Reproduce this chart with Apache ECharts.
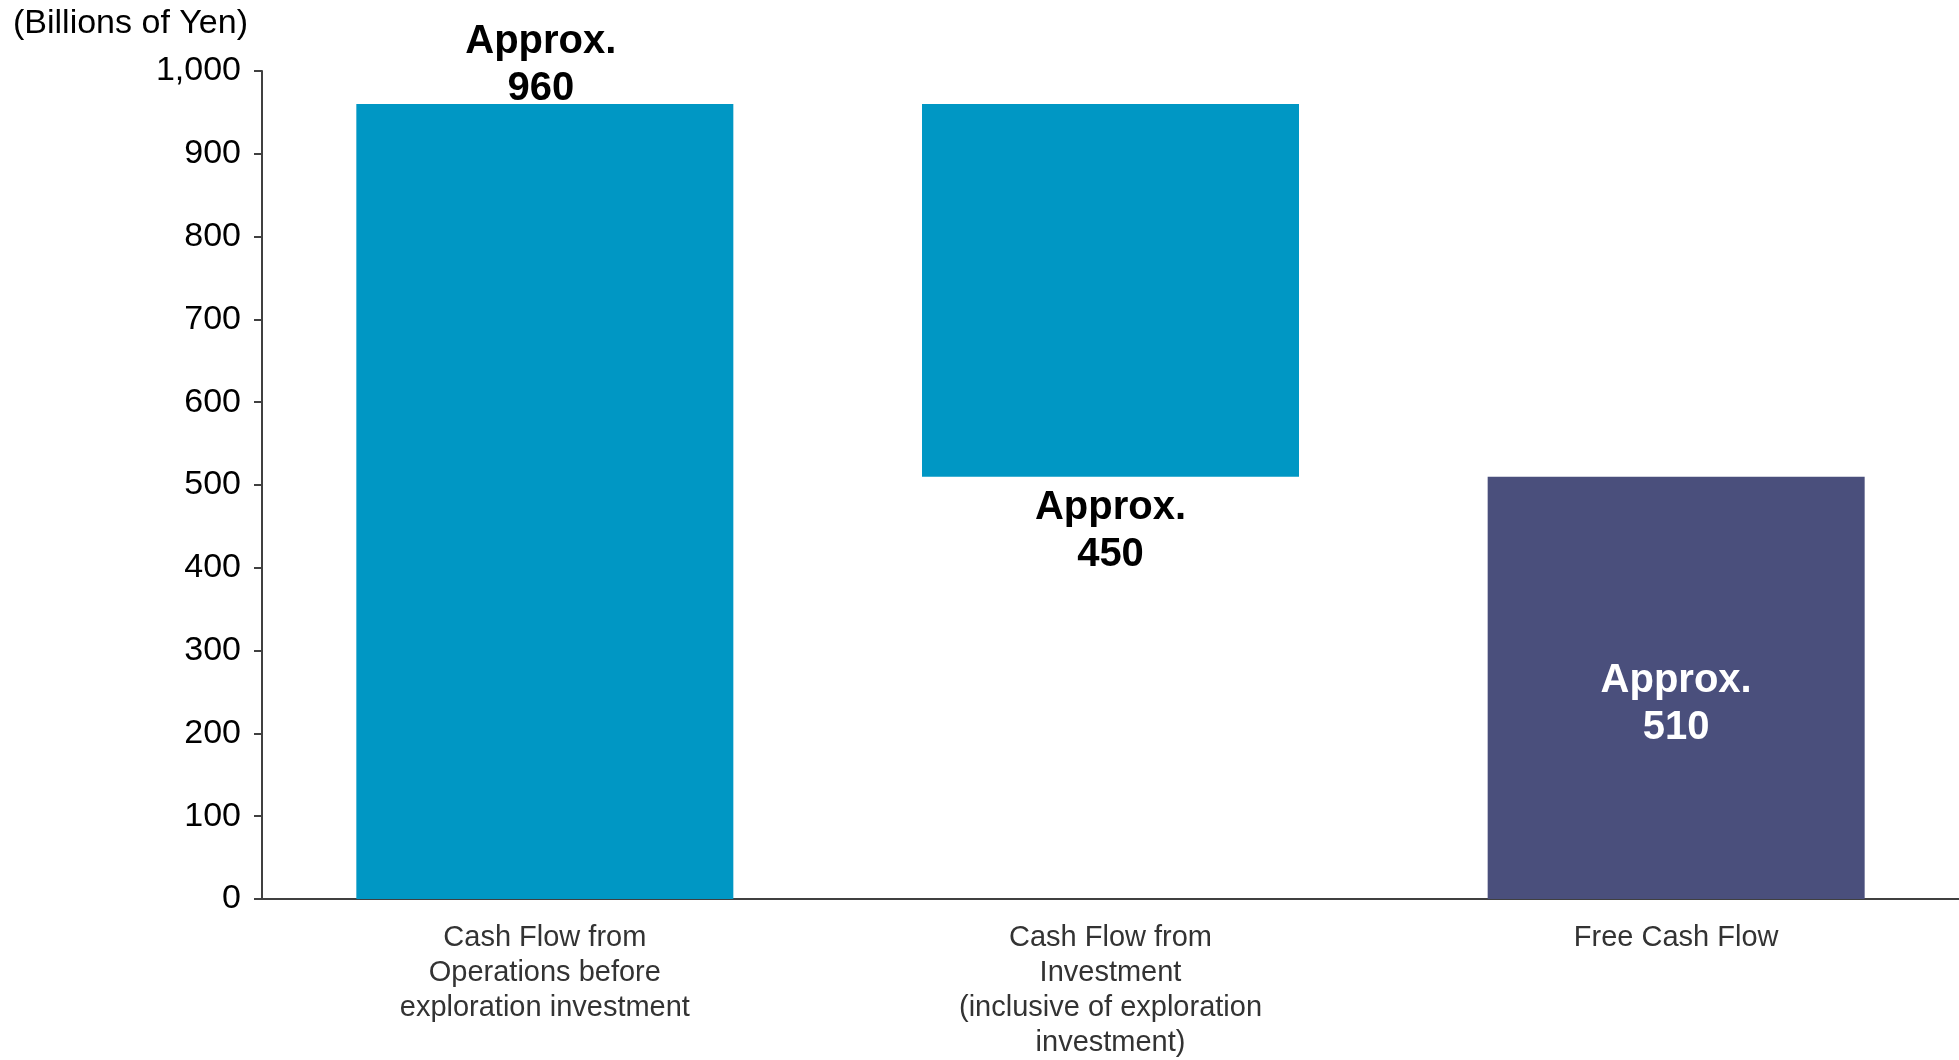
<!DOCTYPE html>
<html>
<head>
<meta charset="utf-8">
<title>Cash Flow</title>
<script src="https://cdn.jsdelivr.net/npm/echarts@6/dist/echarts.min.js"></script>
<style>
  html, body { margin: 0; padding: 0; background: #fff; }
  #chart { width: 1959px; height: 1060px; }
</style>
</head>
<body>
<div id="chart"></div>
<script>
const categories = [
  "Cash Flow from\nOperations before\nexploration investment",
  "Cash Flow from\nInvestment\n(inclusive of exploration\ninvestment)",
  "Free Cash Flow"
];
// invisible offset under each bar (waterfall)
const baseValues = [0, 510, 0];
const barValues = [960, 450, 510];
const barLabels = ["Approx.\n960", "Approx.\n450", "Approx.\n510"];
const yTicks = [0, 100, 200, 300, 400, 500, 600, 700, 800, 900, 1000];

const FONT = "'Liberation Sans', Arial, sans-serif";
const colors = {
  blue: "#0097c4",
  navy: "#4a4f7c",
  axis: "#404040"
};

// per-bar look
const barColors = [colors.blue, colors.blue, colors.navy];
const labelSpots = [
  { position: "top", distance: -8, offset: [-4, 0], color: "#000" },
  { position: "bottom", distance: 8, color: "#000" },
  { position: "inside", offset: [0, 17], color: "#fff" }
];

const chart = echarts.init(document.getElementById("chart"));

const option = {
  animation: false,
  title: {
    text: "(Billions of Yen)",
    left: 13,
    top: 7,
    padding: 0,
    textStyle: { fontFamily: FONT, fontSize: 34, fontWeight: "normal", color: "#000" }
  },
  grid: { left: 262, right: 0, top: 71, bottom: 158, containLabel: false },
  xAxis: {
    type: "category",
    data: categories,
    axisLine: { show: true, lineStyle: { color: colors.axis, width: 2 } },
    axisTick: { show: false },
    axisLabel: {
      interval: 0,
      margin: 21,
      fontFamily: FONT,
      fontSize: 29,
      lineHeight: 35,
      color: "#333"
    }
  },
  yAxis: {
    type: "value",
    min: yTicks[0],
    max: yTicks[yTicks.length - 1],
    interval: 100,
    axisLine: { show: true, lineStyle: { color: colors.axis, width: 2 } },
    axisTick: { show: true, length: 8, lineStyle: { color: colors.axis, width: 2 } },
    splitLine: { show: false },
    axisLabel: {
      margin: 21,
      fontFamily: FONT,
      fontSize: 34,
      color: "#000",
      formatter: (v) => v.toLocaleString("en-US")
    }
  },
  series: [
    {
      name: "base",
      type: "bar",
      stack: "cf",
      barWidth: 377,
      silent: true,
      itemStyle: { color: "transparent" },
      data: baseValues
    },
    {
      name: "value",
      type: "bar",
      stack: "cf",
      barWidth: 377,
      data: barValues.map((v, i) => ({
        value: v,
        itemStyle: { color: barColors[i] },
        label: {
          show: true,
          formatter: barLabels[i],
          fontFamily: FONT,
          fontSize: 40,
          fontWeight: "bold",
          lineHeight: 47,
          align: "center",
          ...labelSpots[i]
        }
      }))
    }
  ]
};

chart.setOption(option);
window.addEventListener("resize", () => chart.resize());
</script>
</body>
</html>
